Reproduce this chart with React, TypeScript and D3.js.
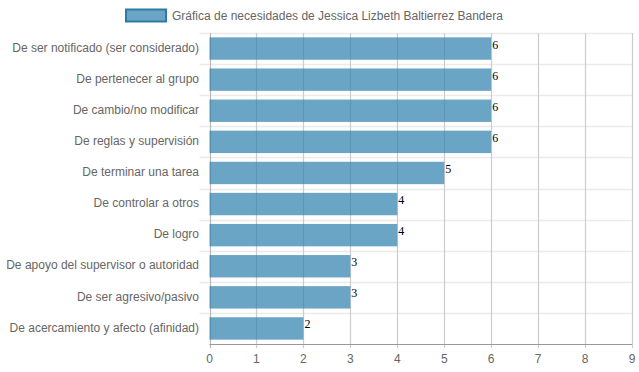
import React, { useEffect, useRef } from "react";
import * as d3 from "d3";

const categories = [
  "De ser notificado (ser considerado)",
  "De pertenecer al grupo",
  "De cambio/no modificar",
  "De reglas y supervisión",
  "De terminar una tarea",
  "De controlar a otros",
  "De logro",
  "De apoyo del supervisor o autoridad",
  "De ser agresivo/pasivo",
  "De acercamiento y afecto (afinidad)",
];

const values = [6, 6, 6, 6, 5, 4, 4, 3, 3, 2];

const xTicks = [0, 1, 2, 3, 4, 5, 6, 7, 8, 9];

const seriesLabel = "Gráfica de necesidades de Jessica Lizbeth Baltierrez Bandera";

const width = 639;
const height = 372;
const margin = { top: 33, right: 7, bottom: 28, left: 209.5 };
const font = "'Liberation Sans', Arial, Helvetica, sans-serif";

const App = () => {
  const ref = useRef<SVGSVGElement>(null);

  useEffect(() => {
    const svg = d3.select(ref.current);
    svg.selectAll("*").remove();

    const x = d3
      .scaleLinear()
      .domain([0, 9])
      .range([margin.left, width - margin.right]);
    const y = d3
      .scaleBand()
      .domain(categories)
      .range([margin.top, height - margin.bottom]);

    const bottom = height - margin.bottom;

    // horizontal grid (band boundaries)
    const bounds = categories.map((c) => y(c)!);
    svg
      .append("g")
      .selectAll("line")
      .data(bounds)
      .enter()
      .append("line")
      .attr("x1", margin.left - 10)
      .attr("x2", width - margin.right)
      .attr("y1", (d) => Math.round(d) + 0.5)
      .attr("y2", (d) => Math.round(d) + 0.5)
      .attr("stroke", "#ebebeb")
      .attr("stroke-width", 1.5);

    // vertical grid
    svg
      .append("g")
      .selectAll("line")
      .data(xTicks)
      .enter()
      .append("line")
      .attr("x1", (d) => Math.round(x(d)) + 0.5)
      .attr("x2", (d) => Math.round(x(d)) + 0.5)
      .attr("y1", margin.top)
      .attr("y2", bottom + 4)
      .attr("stroke", (d) => (d === 0 ? "#b8b8b8" : "#cccccc"))
      .attr("stroke-width", 1.2);

    // x axis line
    svg
      .append("line")
      .attr("x1", margin.left)
      .attr("x2", width - margin.right)
      .attr("y1", bottom + 0.5)
      .attr("y2", bottom + 0.5)
      .attr("stroke", "#999");

    // bars
    const barH = y.bandwidth() * 0.72;
    svg
      .append("g")
      .selectAll("rect")
      .data(values)
      .enter()
      .append("rect")
      .attr("x", x(0))
      .attr("y", (d, i) => y(categories[i])! + (y.bandwidth() - barH) / 2)
      .attr("width", (d) => x(d) - x(0))
      .attr("height", barH)
      .attr("fill", "rgba(50,130,175,0.72)");

    // value labels
    svg
      .append("g")
      .selectAll("text")
      .data(values)
      .enter()
      .append("text")
      .attr("x", (d) => x(d) + 1)
      .attr("y", (d, i) => y(categories[i])! + y.bandwidth() / 2)
      .attr("font-family", "'Liberation Serif', 'DejaVu Serif', serif")
      .attr("font-size", 12)
      .attr("fill", "#000")
      .text((d) => d);

    // y labels
    svg
      .append("g")
      .selectAll("text")
      .data(categories)
      .enter()
      .append("text")
      .attr("x", margin.left - 10.5)
      .attr("y", (d) => y(d)! + y.bandwidth() / 2 - 1)
      .attr("dy", "0.35em")
      .attr("text-anchor", "end")
      .attr("font-family", font)
      .attr("font-size", 12)
      .attr("fill", "#666")
      .text((d) => d);

    // x tick labels
    svg
      .append("g")
      .selectAll("text")
      .data(xTicks)
      .enter()
      .append("text")
      .attr("x", (d) => x(d))
      .attr("y", bottom + 15)
      .attr("dy", "0.35em")
      .attr("text-anchor", "middle")
      .attr("font-family", font)
      .attr("font-size", 12)
      .attr("fill", "#666")
      .text((d) => d);

    // legend
    svg
      .append("rect")
      .attr("x", 126)
      .attr("y", 9.5)
      .attr("width", 40)
      .attr("height", 12)
      .attr("fill", "rgba(50,130,175,0.72)")
      .attr("stroke", "#2e7aa6")
      .attr("stroke-width", 2);
    svg
      .append("text")
      .attr("x", 172)
      .attr("y", 15.5)
      .attr("dy", "0.35em")
      .attr("font-family", font)
      .attr("font-size", 12)
      .attr("fill", "#666")
      .text(seriesLabel);
  }, []);

  return (
    <svg
      ref={ref}
      width={width}
      height={height}
      style={{ position: "absolute", left: 0, top: 0, background: "#fff" }}
    />
  );
};

export default App;
